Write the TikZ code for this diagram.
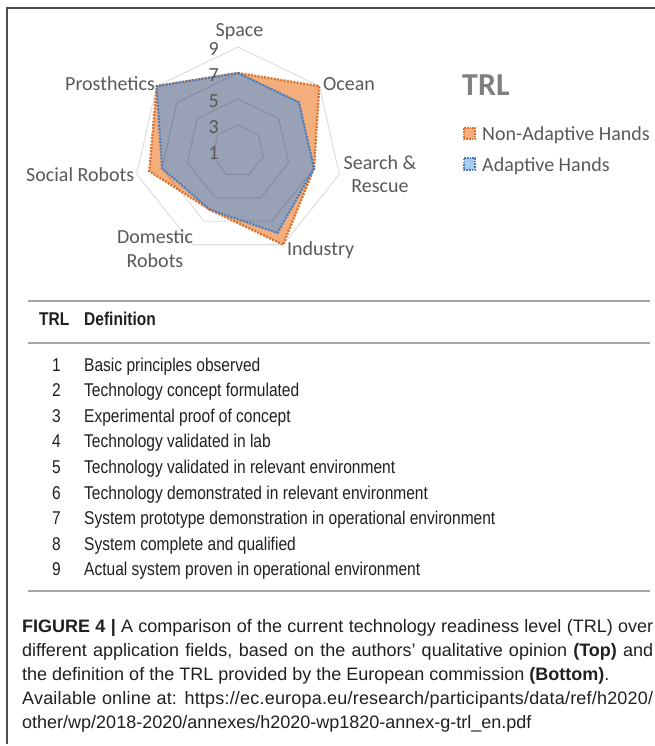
\documentclass[tikz,border=0pt]{standalone}
\usepackage{fontspec}
\setmainfont{Liberation Sans}
\newfontfamily\chartfont{Carlito}
\newfontfamily\tabfont[FakeStretch=0.84]{Liberation Sans}
\definecolor{lblgray}{HTML}{595959}
\definecolor{ttlgray}{HTML}{7F7F7F}
\definecolor{txtcol}{HTML}{231F20}
\definecolor{framecol}{HTML}{4D4D4D}
\definecolor{rulecol}{HTML}{A6A6A6}
\definecolor{orfill}{HTML}{F4AE7C}
\definecolor{ordot}{HTML}{DB7230}
\definecolor{blfill}{HTML}{99A1B6}
\definecolor{bldot}{HTML}{4A7DBE}
\definecolor{bllegfill}{HTML}{A9CBEA}
\begin{document}
\begin{tikzpicture}[x=1pt,y=-1pt,
  chartlbl/.style={font=\chartfont\fontsize{20}{24}\selectfont, text=lblgray, inner sep=0pt},
  ticklbl/.style={font=\chartfont\fontsize{20}{24}\selectfont, text=lblgray, inner sep=0pt, anchor=east},
  tabtxt/.style={font=\tabfont\fontsize{18.5}{22}\selectfont, text=txtcol, inner sep=0pt},
  tabhead/.style={font=\tabfont\bfseries\fontsize{18.5}{22}\selectfont, text=txtcol, inner sep=0pt, anchor=base west},
  captxt/.style={font=\fontsize{18}{22}\selectfont, text=txtcol, inner sep=0pt, anchor=base west},
  gridline/.style={draw=black, draw opacity=0.14, line width=0.9pt},
  ordotted/.style={draw=ordot, line width=2.3pt, dash pattern=on 2pt off 1.3pt},
  bldotted/.style={draw=bldot, line width=2.1pt, dash pattern=on 2pt off 1.3pt},
  legsq/.style={minimum size=11.5pt, inner sep=0pt, line width=1.6pt, dash pattern=on 1.6pt off 1.1pt},
  tabrule/.style={draw=rulecol, line width=1.2pt},
  framerule/.style={draw=framecol, line width=1.5pt}]
\useasboundingbox (0,0) rectangle (655,746);
\fill[white] (0,0) rectangle (655,746);

% frame
\draw[framerule] (7,744) -- (7,8) -- (655,8);

% radar chart
\begin{scope}[shift={(238,151)}, x=13pt, y=13pt]
  \coordinate (na0) at (90:6);
  \coordinate (na1) at (38.571:8);
  \coordinate (na2) at (-12.857:6);
  \coordinate (na3) at (-64.286:8);
  \coordinate (na4) at (-115.714:5);
  \coordinate (na5) at (-167.143:7);
  \coordinate (na6) at (141.429:8);
  \coordinate (ad0) at (90:6);
  \coordinate (ad1) at (38.571:6);
  \coordinate (ad2) at (-12.857:6);
  \coordinate (ad3) at (-64.286:7);
  \coordinate (ad4) at (-115.714:5);
  \coordinate (ad5) at (-167.143:6);
  \coordinate (ad6) at (141.429:8);
  \fill[orfill] (na0) -- (na1) -- (na2) -- (na3) -- (na4) -- (na5) -- (na6) -- cycle;
  \fill[blfill] (ad0) -- (ad1) -- (ad2) -- (ad3) -- (ad4) -- (ad5) -- (ad6) -- cycle;
  \foreach \L in {2,4,6,8}
    \draw[gridline] (90:\L) -- (38.571:\L) -- (-12.857:\L) -- (-64.286:\L)
      -- (-115.714:\L) -- (-167.143:\L) -- (141.429:\L) -- cycle;
  \draw[ordotted] (na0) -- (na1) -- (na2) -- (na3) -- (na4) -- (na5) -- (na6) -- cycle;
  \draw[bldotted] (ad0) -- (ad1) -- (ad2) -- (ad3) -- (ad4) -- (ad5) -- (ad6) -- cycle;
\end{scope}

% tick labels
\node[ticklbl] (t9) at (219,49.5) {9};
\node[ticklbl] (t7) at (219,75) {7};
\node[ticklbl] (t5) at (219,101) {5};
\node[ticklbl] (t3) at (219,127) {3};
\node[ticklbl] (t1) at (219,153) {1};

% axis labels
\node[chartlbl, anchor=base] (lspace) at (239.5,37) {Space};
\node[chartlbl, anchor=base west] (locean) at (323,91) {Ocean};
\node[chartlbl, anchor=base east] (lpros) at (155,91) {Prosthetics};
\node[chartlbl, anchor=base west] (lsocial) at (26,182) {Social Robots};
\node[chartlbl, anchor=base west] (lind) at (287,255) {Industry};
\node[chartlbl, anchor=base] (ldom1) at (155,243) {Domestic};
\node[chartlbl, anchor=base] (ldom2) at (155,267) {Robots};
\node[chartlbl, anchor=base] (lsr1) at (380,170) {Search \&};
\node[chartlbl, anchor=base] (lsr2) at (380,193) {Rescue};

% legend
\node[font=\chartfont\bfseries\fontsize{32}{36}\selectfont, text=ttlgray, inner sep=0pt, anchor=base west] (ltitle) at (462,96) {TRL};
\node[legsq, fill=orfill, draw=ordot] (lsq1) at (469.5,133.5) {};
\node[legsq, fill=bllegfill, draw=bldot] (lsq2) at (469.5,164) {};
\node[chartlbl, anchor=base west] (leg1) at (482,141) {Non-Adaptive Hands};
\node[chartlbl, anchor=base west] (leg2) at (482,171.5) {Adaptive Hands};

% table
\draw[tabrule] (28,301) -- (650,301);
\draw[tabrule] (28,343) -- (650,343);
\draw[tabrule] (28,591) -- (650,591);
\node[tabhead] (hTRL) at (39,325) {TRL};
\node[tabhead] (hDef) at (84,325) {Definition};
\foreach \t [count=\i] in {Basic principles observed,
  Technology concept formulated,
  Experimental proof of concept,
  Technology validated in lab,
  Technology validated in relevant environment,
  Technology demonstrated in relevant environment,
  System prototype demonstration in operational environment,
  System complete and qualified,
  Actual system proven in operational environment}{
  \node[tabtxt, anchor=base east] (n\i) at (61,{371+(\i-1)*25.6}) {\i};
  \node[tabtxt, anchor=base west] (d\i) at (84,{371+(\i-1)*25.6}) {\t};
}

% caption
\node[captxt] (c1) at (22,632) {\makebox[631pt][s]{\textbf{FIGURE 4 |} A comparison of the current technology readiness level (TRL) over}};
\node[captxt] (c2) at (22,656) {\makebox[631pt][s]{different application fields, based on the authors’ qualitative opinion \textbf{(Top)} and}};
\node[captxt] (c3) at (22,680) {the definition of the TRL provided by the European commission \textbf{(Bottom)}.};
\node[captxt] (c4) at (22,704) {\addfontfeature{LetterSpace=1.1}\makebox[631pt][s]{Available online at: https://ec.europa.eu/research/participants/data/ref/h2020/}};
\node[captxt] (c5) at (22,728) {other/wp/2018-2020/annexes/h2020-wp1820-annex-g-trl\_en.pdf};
\end{tikzpicture}
\end{document}
